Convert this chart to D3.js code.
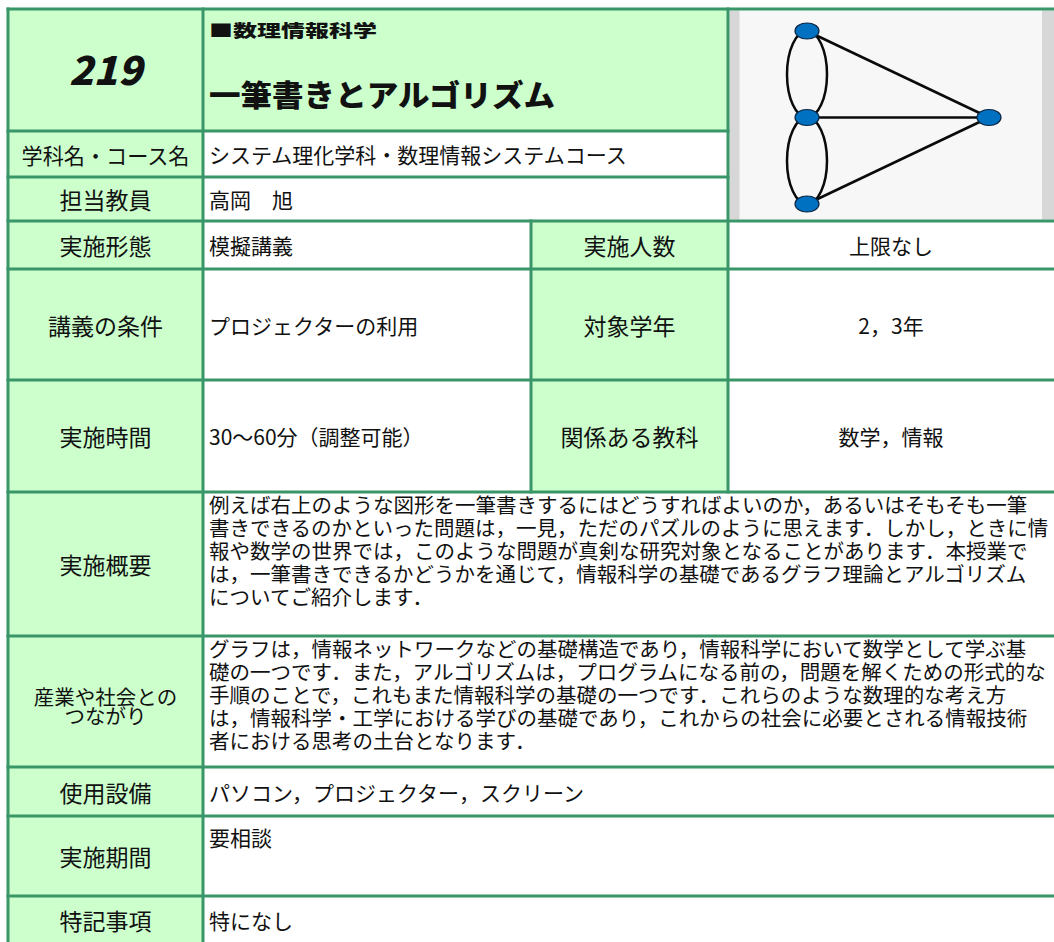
<!DOCTYPE html>
<html><head><meta charset="utf-8">
<script src="https://cdn.jsdelivr.net/npm/d3@7"></script>
<style>html,body{margin:0;padding:0;background:#fff;overflow:hidden}</style>
</head><body>
<svg id="c" width="1054" height="942"></svg>
<script>
// ---------- content ----------
const courseNumber = "219";
const fieldName = "■数理情報科学";
const courseTitle = "一筆書きとアルゴリズム";
const rowLabels = ["学科名・コース名","担当教員","実施形態","講義の条件","実施時間","実施概要","産業や社会との|つながり","使用設備","実施期間","特記事項"];
const rowValues = ["システム理化学科・数理情報システムコース","高岡　旭","模擬講義","プロジェクターの利用","30〜60分（調整可能）","", "", "パソコン，プロジェクター，スクリーン","要相談","特になし"];
const sideLabels = ["実施人数","対象学年","関係ある教科"];
const sideValues = ["上限なし","2，3年","数学，情報"];
const summaryLines = [
 "例えば右上のような図形を一筆書きするにはどうすればよいのか，あるいはそもそも一筆",
 "書きできるのかといった問題は，一見，ただのパズルのように思えます．しかし，ときに情",
 "報や数学の世界では，このような問題が真剣な研究対象となることがあります．本授業で",
 "は，一筆書きできるかどうかを通じて，情報科学の基礎であるグラフ理論とアルゴリズム",
 "についてご紹介します．"];
const linkLines = [
 "グラフは，情報ネットワークなどの基礎構造であり，情報科学において数学として学ぶ基",
 "礎の一つです．また，アルゴリズムは，プログラムになる前の，問題を解くための形式的な",
 "手順のことで，これもまた情報科学の基礎の一つです．これらのような数理的な考え方",
 "は，情報科学・工学における学びの基礎であり，これからの社会に必要とされる情報技術",
 "者における思考の土台となります．"];
const graphNodeIds = ["a","b","c","d"];
const graphNodeCol = [0,0,0,1];
const graphNodeRow = [0,1,2,1];
const graphEdges = [["a","b",-1],["a","b",1],["b","c",-1],["b","c",1],["a","d",0],["b","d",0],["c","d",0]];

// ---------- layout ----------
const svg = d3.select("#c");
const W = 1054, H = 942;
const colX = [8, 203, 531, 728, 1058];
const rowY = [9, 131, 177, 221, 269, 380, 492, 636, 767, 816, 896, 1000];
const green = "#ccffcc", line = "#389669", ink = "#111";
const FONT = "'Noto Sans CJK JP','Noto Sans',sans-serif";

// backgrounds
const g = svg.append("g");
g.append("rect").attr("x",colX[0]).attr("y",rowY[0]).attr("width",colX[1]-colX[0]).attr("height",rowY[11]-rowY[0]).attr("fill",green);
g.append("rect").attr("x",colX[1]).attr("y",rowY[0]).attr("width",colX[3]-colX[1]).attr("height",rowY[1]-rowY[0]).attr("fill",green);
g.append("rect").attr("x",colX[2]).attr("y",rowY[3]).attr("width",colX[3]-colX[2]).attr("height",rowY[6]-rowY[3]).attr("fill",green);

// image area
const img = {x0: colX[3]+1.5, y0: rowY[0]+1.5, x1: W, y1: rowY[3]-1.5};
g.append("rect").attr("x",img.x0).attr("y",img.y0).attr("width",img.x1-img.x0).attr("height",img.y1-img.y0).attr("fill","#f7f7f7");
g.append("rect").attr("x",img.x0).attr("y",img.y0).attr("width",10).attr("height",img.y1-img.y0).attr("fill","#d7d7d7");
g.append("rect").attr("x",1042).attr("y",img.y0).attr("width",W-1042).attr("height",img.y1-img.y0).attr("fill","#d7d7d7");

// graph
const gx = d3.scaleLinear().domain([0,1]).range([807, 989]);
const gy = d3.scaleLinear().domain([0,2]).range([31, 204]);
const nodes = graphNodeIds.map((id,i)=>({id, x: gx(graphNodeCol[i]), y: gy(graphNodeRow[i])}));
const byId = Object.fromEntries(nodes.map(n=>[n.id,n]));
const gg = svg.append("g");
gg.selectAll("path.edge").data(graphEdges).join("path")
  .attr("fill","none").attr("stroke","#0a0a0a").attr("stroke-width",2.5)
  .attr("d", e => {
    const s = byId[e[0]], t = byId[e[1]];
    if (e[2] === 0) return `M${s.x},${s.y}L${t.x},${t.y}`;
    const ry = Math.abs(t.y - s.y)/2;
    return `M${s.x},${s.y}A20,${ry} 0 0 ${e[2] < 0 ? 0 : 1} ${t.x},${t.y}`;
  });
gg.selectAll("ellipse").data(nodes).join("ellipse")
  .attr("cx",d=>d.x).attr("cy",d=>d.y).attr("rx",12).attr("ry",8)
  .attr("fill","#0070c0").attr("stroke","#0b2540").attr("stroke-width",1.2);

// grid lines
const L = svg.append("g").attr("stroke",line).attr("stroke-width",3).attr("stroke-linecap","square");
const hline = (y,x0,x1)=>L.append("line").attr("x1",x0).attr("x2",x1).attr("y1",y).attr("y2",y);
const vline = (x,y0,y1)=>L.append("line").attr("x1",x).attr("x2",x).attr("y1",y0).attr("y2",y1);
hline(rowY[0], colX[0], colX[4]);
hline(rowY[1], colX[0], colX[3]);
hline(rowY[2], colX[0], colX[3]);
for (let i=3;i<=10;i++) hline(rowY[i], colX[0], colX[4]);
vline(colX[0], rowY[0], rowY[11]);
vline(colX[1], rowY[0], rowY[11]);
vline(colX[2], rowY[3], rowY[6]);
vline(colX[3], rowY[0], rowY[6]);

// text helpers
const T = svg.append("g").attr("font-family",FONT).attr("fill",ink);
function txt(x,y,s,size,anchor="start",extra={}){
  const t = T.append("text").attr("x",x).attr("y",y).attr("font-size",size)
    .attr("text-anchor",anchor).attr("dominant-baseline","central").text(s);
  for (const k in extra) t.attr(k, extra[k]);
  return t;
}
function block(x,y,lines,size,step,anchor="start"){
  const t = T.append("text").attr("x",x).attr("y",y).attr("font-size",size)
    .attr("text-anchor",anchor).attr("dominant-baseline","central");
  lines.forEach((s,i)=> t.append("tspan").attr("x",x).attr("y", y + i*step)
    .attr("dominant-baseline","central").text(s));
  return t;
}

// header
txt((colX[0]+colX[1])/2, 68, courseNumber, 40, "middle", {"font-weight":900, "font-style":"italic"});
txt(209, 29, fieldName, 17, "start", {"font-weight":900, "textLength":168, "lengthAdjust":"spacingAndGlyphs"});
txt(209, 93, courseTitle, 30, "start", {"font-weight":900, "textLength":346, "lengthAdjust":"spacingAndGlyphs"});

// labels + values
const labelX = (colX[0]+colX[1])/2;
rowLabels.forEach((lab,i)=>{
  const r = i+1;
  let cy = (rowY[r]+rowY[r+1])/2;
  if (r === 10) cy = 920;
  const parts = lab.split("|");
  if (parts.length > 1){
    block(labelX, 696, parts, 20.5, 19, "middle");
  } else if (lab.length > 6) {
    txt(labelX, cy, lab, 22, "middle", {"textLength":168, "lengthAdjust":"spacingAndGlyphs"});
  } else {
    txt(labelX, cy, lab, 23, "middle");
  }
  const v = rowValues[i];
  if (v){
    let vy = cy;
    if (r === 9) vy = rowY[r] + 21;
    txt(209, vy, v, 21, "start");
  }
});
sideLabels.forEach((lab,i)=>{
  const r = i+3;
  const cy = (rowY[r]+rowY[r+1])/2;
  txt((colX[2]+colX[3])/2, cy, lab, 23, "middle");
  txt(891, cy, sideValues[i], 21, "middle");
});
block(209, rowY[6]+12, summaryLines, 20.5, 23);
block(209, rowY[7]+12, linkLines, 20.5, 23);
</script>
</body></html>
